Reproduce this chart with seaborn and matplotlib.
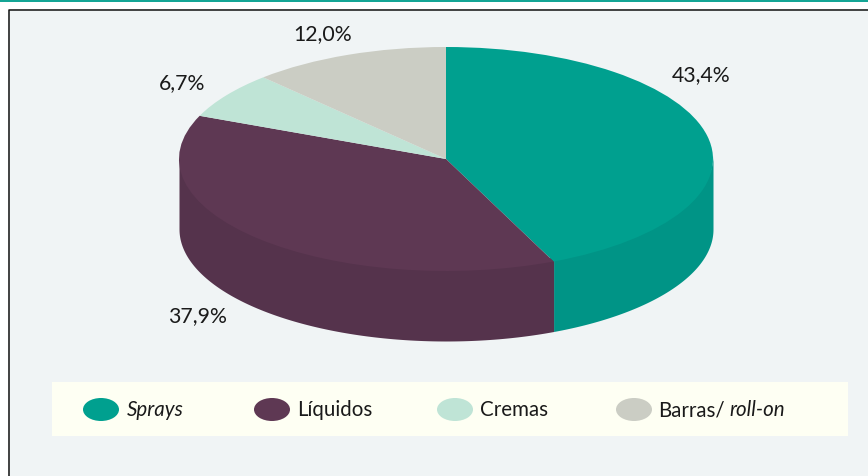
import numpy as np
import matplotlib
matplotlib.use("Agg")
import matplotlib.pyplot as plt
from matplotlib.patches import Rectangle, Ellipse
import seaborn as sns

categories = ["Sprays", "Líquidos", "Cremas", "Barras/roll-on"]
values = [43.4, 37.9, 6.7, 12.0]
top_colors = ["#00A08F", "#5E3853", "#BFE4D6", "#CBCDC4"]
wall_colors = ["#009486", "#55334C", "#BFE4D6", "#CBCDC4"]
value_labels = ["43,4%", "37,9%", "6,7%", "12,0%"]

sns.set_theme(style="white")
plt.rcParams["font.family"] = ["Lato", "DejaVu Sans"]

W, H = 868, 477
CX, CY, RX, RY, DEPTH = 446, 160, 267, 112, 70
fig = plt.figure(figsize=(W / 100, H / 100), dpi=100, facecolor="white")

# Background layer in pixel coordinates
bg = fig.add_axes([0, 0, 1, 1], zorder=0)
bg.set_xlim(0, W)
bg.set_ylim(H, 0)
bg.axis("off")
bg.add_patch(Rectangle((0, 0), W, 2.5, fc="#14A595", ec="none"))
bg.add_patch(Rectangle((8, 10), W - 8, H - 10, fc="#F0F4F5", ec="none"))
bg.plot([8.5, 8.5, W], [H, 10.5, 10.5], color="#111111", lw=1.1)
bg.add_patch(Rectangle((52, 382.5), 796, 54, fc="#FEFFF3", ec="none"))

# Pie layer: one radius is RX pixels across and RY pixels down
ax = fig.add_axes([0, 0, 1, 1], zorder=1)
ax.patch.set_alpha(0)
edges = 90 - 3.6 * np.cumsum([0] + values)
d = DEPTH / RY
overlap = 0.04  # wall runs slightly under the top face, hiding the seam
for i in range(len(values)):
    hi, lo = edges[i], edges[i + 1]
    for a, b in [(hi, lo), (hi + 360, lo + 360), (hi - 360, lo - 360)]:
        if a > 180 and b < 360:
            s, e = min(a, 360), max(b, 180)
            t = np.radians(np.linspace(s, e, 120))
            x = np.cos(t)
            y = np.sin(t)
            ax.fill_between(x, y + overlap, y - d, color=wall_colors[i], lw=0)
ax.pie(values, colors=top_colors, startangle=90, counterclock=False,
       radius=1, center=(0, 0), wedgeprops={"linewidth": 0, "edgecolor": "none"})
ax.set_aspect("auto")
ax.set_xlim((0 - CX) / RX, (W - CX) / RX)
ax.set_ylim((CY - H) / RY, CY / RY)
ax.axis("off")

# Value labels
label_pos = [(701, 75), (197, 316), (182, 83), (323, 34)]
for txt, (px, py) in zip(value_labels, label_pos):
    bg.text(px, py, txt, ha="center", va="center", fontsize=15.3, color="#1a1a1a")

# Legend
swatch_x = [101, 272, 455, 634]
for c, sx in zip(top_colors, swatch_x):
    bg.add_patch(Ellipse((sx, 410.5), 36, 23, fc=c, ec="none"))
common = dict(fontsize=14.8, va="center", color="#1a1a1a")
bg.text(127, 410.5, "Sprays", style="italic", **common)
bg.text(297, 410.5, "Líquidos", **common)
bg.text(480, 410.5, "Cremas", **common)
bg.text(658, 410.5, "Barras/", **common)
bg.text(729, 410.5, "roll-on", style="italic", **common)

fig.savefig("out.png", dpi=100)
